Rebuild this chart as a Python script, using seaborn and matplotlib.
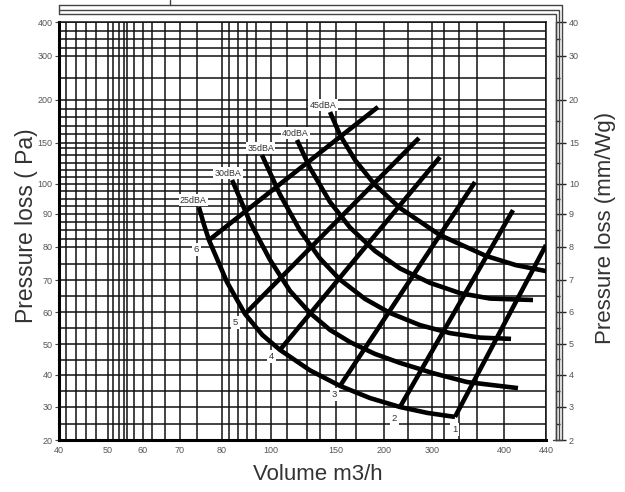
import numpy as np
import pandas as pd
import matplotlib
matplotlib.use("Agg")
import matplotlib.pyplot as plt
from matplotlib.lines import Line2D
import seaborn as sns

# ---------------- data ----------------
x_ticks = [40, 50, 60, 70, 80, 100, 150, 200, 300, 400, 440]
x_tick_labels = ["40", "50", "60", "70", "80", "100", "150", "200", "300", "400", "440"]
x_minor = [41.5, 43.5, 45.5, 47.5, 51.5, 53, 54.5, 55.5, 57.5, 62.5, 66, 74,
           83, 86.5, 90, 94, 112, 128, 138, 171, 250, 317, 338, 362]

y_ticks = [20, 30, 40, 50, 60, 70, 80, 90, 100, 150, 200, 300, 400]
y_tick_labels = ["20", "30", "40", "50", "60", "70", "80", "90", "100", "150", "200", "300", "400"]
y_minor = [25, 35, 45, 55, 65, 75, 82.5, 85, 87.5, 92.5, 95, 97.5,
           108, 117, 126, 135, 144, 160, 170, 180, 190, 250, 325, 350, 375]

mm_tick_labels = ["2", "3", "4", "5", "6", "7", "8", "9", "10", "15", "20", "30", "40"]
mm_minor = [25, 35, 45, 55, 65, 75, 85, 95, 125, 175, 250, 350]

dba_names = ["25dBA", "30dBA", "35dBA", "40dBA", "45dBA"]
dba_x = [
    [74.5, 75.7, 76.9, 82.0, 89.4, 96.5, 106.9, 130, 154.2, 185.4, 233.3, 290.6, 331.9],
    [84.1, 91.4, 99.6, 114.6, 130, 145.4, 164.6, 190.6, 233.3, 301.4, 348.6, 413.3],
    [96.3, 106.9, 122.3, 137.7, 154.2, 180.2, 212.5, 275, 325, 366.7, 406.7],
    [120, 130, 145.4, 164.6, 190.6, 233.3, 295.8, 338.9, 380.6, 427.6],
    [145.4, 154.2, 169.8, 190.6, 233.3, 311.1, 375, 411.4, 440],
]
dba_y = [
    [92.3, 86.8, 82.1, 69.4, 59.4, 52.8, 48.1, 41.5, 36.6, 32.8, 30, 28.2, 27],
    [104.9, 87.6, 76.1, 66.6, 59.7, 54.4, 50.6, 46.8, 43.9, 40.6, 37.8, 35.9],
    [135.4, 96.5, 85.0, 76.5, 70.1, 64.1, 59.7, 55.9, 53.4, 52.0, 51.6],
    [153.5, 119.5, 94, 85.9, 78.8, 73.5, 69.1, 65.9, 64.2, 63.75],
    [186, 159.3, 129.3, 99.7, 92, 83.6, 77.3, 74.5, 72.7],
]

size_names = ["1", "2", "3", "4", "5", "6"]
size_x = [[331.9, 440], [233.3, 408.6], [154.2, 359.7], [106.9, 311.1], [89.4, 272.9], [76.9, 193.75]]
size_y = [[27, 80.6], [30, 91.3], [36.6, 102.4], [48.1, 132.9], [59.4, 155.8], [82.1, 191.9]]

# ---------------- layout / style ----------------
W, H = 625, 492
# pixel anchors of the printed (non-uniform) scales
x_anchor = [0, 49, 84, 121, 163, 212, 277, 325, 373, 445, 487]
y_anchor = [0, 33, 65, 96, 128, 160, 193, 226, 256, 297, 340, 384, 417.5]
dba_offsets = [(-4, 5), (-3, 5), (-1, 5), (-1, 5), (-5, 5)]
size_offsets = [(0, -9), (-4, -8), (-4, -6), (-6, -5), (-7, -6), (-9, -7)]


def piecewise(vals, pos):
    vals = np.asarray(vals, float)
    pos = np.asarray(pos, float)

    def fwd(v):
        return np.interp(v, vals, pos)

    def inv(p):
        return np.interp(p, pos, vals)
    return fwd, inv


sns.set_theme(style="white")
plt.rcParams["font.family"] = ["Liberation Sans", "DejaVu Sans"]

fig = plt.figure(figsize=(W / 100, H / 100), dpi=100)
ax = fig.add_axes([59 / W, 1 - 440 / H, (546 - 59) / W, (440 - 22.5) / H])

fx, ix = piecewise(x_ticks, x_anchor)
fy, iy = piecewise(y_ticks, y_anchor)
ax.set_xscale("function", functions=(fx, ix))
ax.set_yscale("function", functions=(fy, iy))
ax.set_xlim(40, 440)
ax.set_ylim(20, 400)

rows = []
for name, xs, ys in zip(dba_names, dba_x, dba_y):
    for i, (a, b) in enumerate(zip(xs, ys)):
        rows.append((name, i, a, b))
for name, xs, ys in zip(size_names, size_x, size_y):
    for i, (a, b) in enumerate(zip(xs, ys)):
        rows.append(("size" + name, i, a, b))
df = pd.DataFrame(rows, columns=["curve", "order", "volume", "pressure"])

sns.lineplot(data=df, x="volume", y="pressure", units="curve", estimator=None,
             sort=False, color="black", lw=3.3, legend=False, ax=ax, zorder=5,
             solid_capstyle="butt", solid_joinstyle="round")

# grid
ax.set_xticks(x_ticks)
ax.set_xticklabels(x_tick_labels)
ax.set_xticks(x_minor, minor=True)
ax.set_yticks(y_ticks)
ax.set_yticklabels(y_tick_labels)
ax.set_yticks(y_minor, minor=True)
ax.grid(True, which="both", color="#111111", lw=1.1)
ax.set_axisbelow(True)
ax.tick_params(which="minor", length=0)
ax.tick_params(which="major", length=3, width=0.8, color="#444444",
               labelsize=6.5, labelcolor="#555555", pad=1.5, direction="out")
for s in ["left", "bottom"]:
    ax.spines[s].set_linewidth(2.2)
    ax.spines[s].set_color("#000000")
for s in ["right", "top"]:
    ax.spines[s].set_linewidth(1.1)
    ax.spines[s].set_color("#111111")
ax.set_xlabel("Volume m3/h", fontsize=16, color="#333333", va="center")
ax.set_ylabel("Pressure loss ( Pa)", fontsize=16.5, color="#333333", va="center")
ax.xaxis.set_label_coords((318 - 59) / 487, (440 - 474) / 417.5)
ax.yaxis.set_label_coords((27 - 59) / 487, (440 - 226) / 417.5)

# labels on curves
for name, xs, ys, off in zip(dba_names, dba_x, dba_y, dba_offsets):
    ax.annotate(name, xy=(xs[0], ys[0]), xytext=off, textcoords="offset points",
                ha="center", va="center", fontsize=6.4, color="#333333", zorder=7,
                bbox=dict(boxstyle="square,pad=0.15", fc="white", ec="none"))
for name, xs, ys, off in zip(size_names, size_x, size_y, size_offsets):
    ax.annotate(name, xy=(xs[0], ys[0]), xytext=off, textcoords="offset points",
                ha="center", va="center", fontsize=6.8, color="#333333", zorder=7,
                bbox=dict(boxstyle="square,pad=0.2", fc="white", ec="none"))

# right axis (mm/Wg)
ax2 = ax.twinx()
ax2.set_yscale("function", functions=(fy, iy))
ax2.set_ylim(20, 400)
ax2.set_yticks(y_ticks)
ax2.set_yticklabels(mm_tick_labels)
ax2.set_yticks(mm_minor, minor=True)
ax2.grid(False)
for s in ["left", "top", "bottom"]:
    ax2.spines[s].set_visible(False)
ax2.spines["right"].set_position(("outward", 7))
ax2.spines["right"].set_linewidth(1.0)
ax2.spines["right"].set_color("#222222")
ax2.tick_params(which="major", length=7.5, width=1.0, color="#222222",
                labelsize=6.5, labelcolor="#555555", pad=2)
ax2.tick_params(which="minor", length=3, width=1.0, color="#222222")
ax2.set_ylabel("Pressure loss (mm/Wg)", fontsize=16, color="#333333",
               rotation=90, va="center")
ax2.yaxis.set_label_coords((605 - 59) / 487, (440 - 228) / 417.5)


# decorative frame
def px(x, y):
    return x / W, 1 - y / H


def frame(points, lw=1.0, color="#444444"):
    xs, ys = zip(*[px(a, b) for a, b in points])
    fig.add_artist(Line2D(xs, ys, transform=fig.transFigure, lw=lw, color=color))


frame([(59, 5), (562, 5), (562, 440)])
frame([(59, 10), (559, 10), (559, 440)])
frame([(59, 14), (556, 14), (556, 440)])
frame([(59, 5), (59, 14)])
frame([(553, 440), (562, 440)])
frame([(170, 0), (170, 5)])

fig.savefig("out.png", dpi=100, facecolor="white")
